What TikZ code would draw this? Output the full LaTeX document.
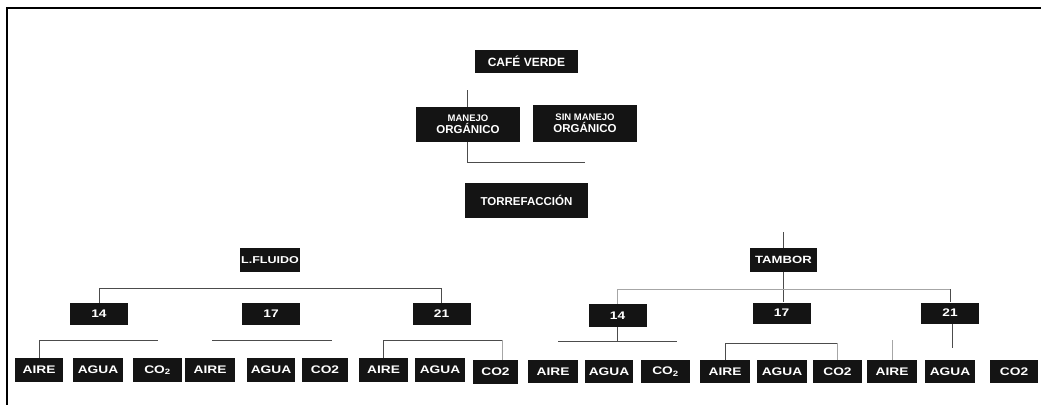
\documentclass[tikz,border=0pt]{standalone}
\usepackage{fontspec}
\setmainfont{Liberation Sans}
\newfontfamily\widefont{Liberation Sans Bold}[FakeStretch=1.25]
\newcommand{\COtwo}{CO\textsubscript{2}}
\begin{document}
\begin{tikzpicture}[x=1pt,y=-1pt,
  box/.style={fill=black!92,text=white,inner sep=0pt,align=center,font=\bfseries\fontsize{11.5}{12}\selectfont},
  mid/.style={box,minimum width=58pt,minimum height=22pt,font=\widefont\fontsize{11}{12}\selectfont},
  leaf/.style={box,minimum width=49pt,minimum height=24pt,font=\widefont\fontsize{11}{12}\selectfont},
  conn/.style={draw=black!70,line width=0.9pt},
  faint/.style={draw=black!35,line width=0.7pt}]
\useasboundingbox (0,0) rectangle (1041,405);
% frame
\draw[line width=2pt] (1041,8) -- (7,8) -- (7,405);
% top nodes
\node[box,minimum width=103pt,minimum height=23pt,font=\bfseries\fontsize{12}{13}\selectfont] (cafe) at (526.5,61.5) {CAFÉ VERDE};
\node[box,minimum width=104pt,minimum height=35pt] (manejo) at (468,124.5) {{\fontsize{9.5}{11}\selectfont MANEJO}\\ORGÁNICO};
\node[box,minimum width=104pt,minimum height=37pt] (sinmanejo) at (585,123.5) {{\fontsize{9.5}{11}\selectfont SIN MANEJO}\\ORGÁNICO};
\node[box,minimum width=123pt,minimum height=35pt,font=\bfseries\fontsize{11.5}{12}\selectfont] (torre) at (526.5,200.5) {TORREFACCIÓN};
\node[box,minimum width=60pt,minimum height=24pt,font=\widefont\fontsize{10}{11}\selectfont] (fluido) at (270,260) {L.FLUIDO};
\node[box,minimum width=67pt,minimum height=24pt,font=\widefont\fontsize{10.5}{11}\selectfont] (tambor) at (783.5,260) {TAMBOR};
% middle level
\node[mid] (L14) at (99,314) {14};
\node[mid] (L17) at (271,314) {17};
\node[mid] (L21) at (441.5,314) {21};
\node[mid,minimum height=23pt] (R14) at (617.5,315.5) {14};
\node[mid,minimum height=21pt] (R17) at (781.5,313) {17};
\node[mid,minimum height=21pt] (R21) at (950,313) {21};
% leaves left
\node[leaf,minimum width=48pt] (la1) at (39,370) {AIRE};
\node[leaf,minimum width=50pt] (lg1) at (98,370) {AGUA};
\node[leaf,minimum width=49pt] (lc1) at (157.5,370) {\COtwo};
\node[leaf,minimum width=50pt] (la2) at (210,370) {AIRE};
\node[leaf,minimum width=48pt] (lg2) at (271,370) {AGUA};
\node[leaf,minimum width=46pt] (lc2) at (325,370) {CO2};
\node[leaf,minimum width=49pt] (la3) at (383.5,370) {AIRE};
\node[leaf,minimum width=50pt] (lg3) at (440,370) {AGUA};
\node[leaf,minimum width=45pt] (lc3) at (495.5,372) {CO2};
% leaves right
\node[leaf,minimum width=50pt,minimum height=23pt] (ra1) at (553,371.5) {AIRE};
\node[leaf,minimum width=48pt,minimum height=23pt] (rg1) at (609,371.5) {AGUA};
\node[leaf,minimum width=49pt,minimum height=23pt] (rc1) at (665.5,371.5) {\COtwo};
\node[leaf,minimum width=50pt,minimum height=23pt] (ra2) at (725,371.5) {AIRE};
\node[leaf,minimum width=50pt,minimum height=23pt] (rg2) at (782,371.5) {AGUA};
\node[leaf,minimum width=49pt,minimum height=23pt] (rc2) at (837.5,371.5) {CO2};
\node[leaf,minimum width=50pt,minimum height=23pt] (ra3) at (892,371.5) {AIRE};
\node[leaf,minimum width=50pt,minimum height=23pt] (rg3) at (950,371.5) {AGUA};
\node[leaf,minimum width=48pt,minimum height=23pt] (rc3) at (1014,371.5) {CO2};
% connectors top
\coordinate (mt) at (467,90);
\coordinate (mj) at (467,162);
\draw[conn] (mt) -- (mt |- manejo.north);
\draw[conn] (manejo.south -| mj) -- (mj) -- (mj -| sinmanejo.south);
% tambor
\coordinate (tt) at (783,232);
\draw[conn] (tt) -- (tt |- tambor.north);
\draw[conn] (tambor.south) -- (tambor.south |- R17.north);
% left level bar
\coordinate (lb) at (0,288);
\draw[conn] (L14.north) -- (L14.north |- lb) -- (L21.north |- lb) -- (L21.north);
% right level bar
\coordinate (rb) at (0,289);
\draw[faint] (R14.north) -- (R14.north |- rb) -- (R21.north |- rb);
\draw[conn] (R21.north |- rb) -- (R21.north);
% under L14
\coordinate (l14e) at (158,340);
\draw[conn] (la1.north) -- (la1.north |- l14e) -- (l14e);
% under L17
\coordinate (l17a) at (212,340);
\coordinate (l17b) at (332,340);
\draw[conn] (l17a) -- (l17b);
% under L21
\coordinate (l21e) at (502,340);
\draw[conn] (la3.north) -- (la3.north |- l21e) -- (l21e);
\draw[faint] (l21e) -- (l21e |- lc3.north);
% under R14
\coordinate (r14l) at (558,341);
\coordinate (r14r) at (677,341);
\draw[conn] (R14.south) -- (R14.south |- r14l);
\draw[conn] (r14l) -- (r14r);
% under R17
\coordinate (r17) at (0,343);
\draw[conn] (ra2.north) -- (ra2.north |- r17) -- (rc2.north |- r17);
\draw[faint] (rc2.north |- r17) -- (rc2.north);
% under R21
\coordinate (r21e) at (952,348);
\draw[conn] (R21.south -| r21e) -- (r21e);
\coordinate (ra3t) at (892,340);
\draw[faint] (ra3t) -- (ra3.north);
\end{tikzpicture}
\end{document}
